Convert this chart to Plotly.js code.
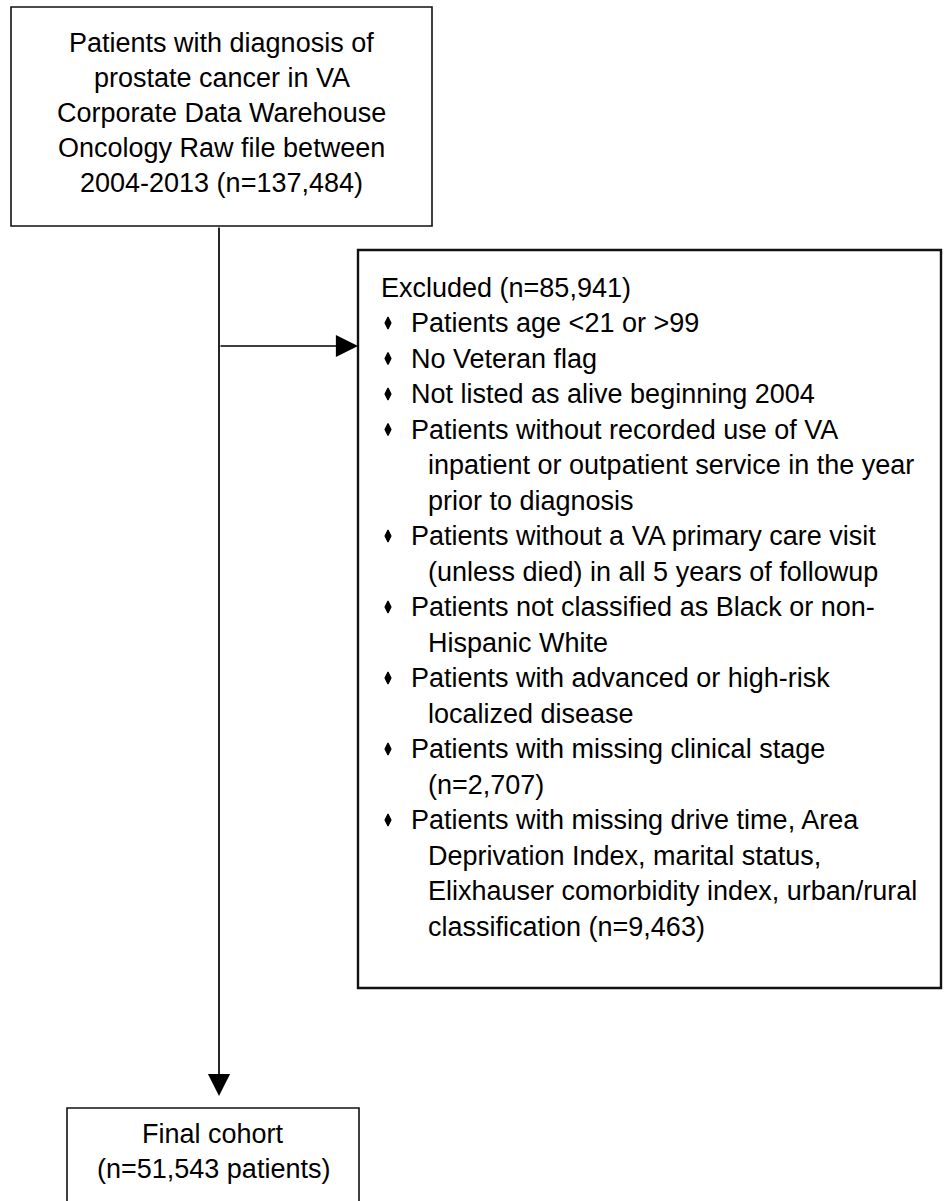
<!DOCTYPE html>
<html>
<head>
<meta charset="utf-8">
<script src="https://cdn.plot.ly/plotly-3.0.1.min.js"></script>
<style>
html,body{margin:0;padding:0;background:#fff;}
#chart{width:947px;height:1201px;}
</style>
</head>
<body>
<div id="chart"></div>
<script>
// ---------- content (text of the flow chart) ----------
const topBoxLines = [
  "Patients with diagnosis of",
  "prostate cancer in VA",
  "Corporate Data Warehouse",
  "Oncology Raw file between",
  "2004-2013 (n=137,484)"
];
const excludedTitle = "Excluded (n=85,941)";
const excludedItems = [
  ["Patients age &lt;21 or &gt;99"],
  ["No Veteran flag"],
  ["Not listed as alive beginning 2004"],
  ["Patients without recorded use of VA", "inpatient or outpatient service in the year", "prior to diagnosis"],
  ["Patients without a VA primary care visit", "(unless died) in all 5 years of followup"],
  ["Patients not classified as Black or non-", "Hispanic White"],
  ["Patients with advanced or high-risk", "localized disease"],
  ["Patients with missing clinical stage", "(n=2,707)"],
  ["Patients with missing drive time, Area", "Deprivation Index, marital status,", "Elixhauser comorbidity index, urban/rural", "classification (n=9,463)"]
];
const finalBoxLines = [
  "Final cohort",
  "(n=51,543 patients)"
];

// ---------- geometry / styling ----------
const W = 947, H = 1201;
const FONT = {family: '"Liberation Sans", Arial, Helvetica, sans-serif', size: 27, color: '#000'};
const geo = {
  topBox: {x0: 11, x1: 432, y0: 7, y1: 226, lw: 1.6},
  topY0: 43, topGap: 35,
  exBox: {x0: 358, x1: 941, y0: 250, y1: 988, lw: 2.4},
  exTitleX: 381, exY0: 287.5, exGap: 35.5,
  bulletX: 388, bulletTextX: 411, wrapX: 428,
  finBox: {x0: 67, x1: 359, y0: 1108, y1: 1215, lw: 1.6},
  finY0: 1134, finGap: 35,
  trunkX: 219, trunkTop: 226, trunkTip: 1096, branchY: 346
};

const shapes = [];
function box(b) {
  shapes.push({type: 'rect', xref: 'x', yref: 'y', x0: b.x0, x1: b.x1, y0: b.y0, y1: b.y1,
    line: {color: '#111', width: b.lw}, fillcolor: 'rgba(0,0,0,0)', layer: 'above'});
}
box(geo.topBox); box(geo.exBox); box(geo.finBox);

const annotations = [];
function textAt(txt, x, y, anchor) {
  annotations.push({text: txt, x: x, y: y, xref: 'x', yref: 'y', showarrow: false,
    xanchor: anchor, yanchor: 'middle', font: FONT, borderpad: 0, borderwidth: 0});
}
// top box
const topCx = (geo.topBox.x0 + geo.topBox.x1) / 2;
topBoxLines.forEach((t, i) => textAt(t, topCx, geo.topY0 + i * geo.topGap, 'center'));
// final box
const finCx = (geo.finBox.x0 + geo.finBox.x1) / 2;
finalBoxLines.forEach((t, i) => textAt(t, finCx, geo.finY0 + i * geo.finGap, 'center'));
// excluded box
textAt(excludedTitle, geo.exTitleX, geo.exY0, 'left');
let row = 1;
const bx = [], by = [];
excludedItems.forEach(item => {
  item.forEach((t, j) => {
    const y = geo.exY0 + row * geo.exGap;
    if (j === 0) { bx.push(geo.bulletX); by.push(y); }
    textAt(t, j === 0 ? geo.bulletTextX : geo.wrapX, y, 'left');
    row++;
  });
});

// arrows
function arrow(x0, y0, x1, y1) {
  annotations.push({text: '', x: x1, y: y1, ax: x0, ay: y0, xref: 'x', yref: 'y', axref: 'x', ayref: 'y',
    showarrow: true, arrowhead: 2, arrowsize: 2.6, arrowwidth: 1.7, arrowcolor: '#000', standoff: 0, startstandoff: 0});
}
arrow(geo.trunkX, geo.trunkTop, geo.trunkX, geo.trunkTip);
arrow(geo.trunkX, geo.branchY, geo.exBox.x0, geo.branchY);

const data = [{
  type: 'scatter', mode: 'markers', x: bx, y: by, hoverinfo: 'skip',
  marker: {symbol: 'diamond-tall', size: 8.5, color: '#000', line: {color: '#000', width: 1.2}}
}];

const layout = {
  width: W, height: H,
  margin: {l: 0, r: 0, t: 0, b: 0, pad: 0},
  paper_bgcolor: '#fff', plot_bgcolor: '#fff',
  showlegend: false,
  xaxis: {range: [0, W], visible: false, fixedrange: true},
  yaxis: {range: [H, 0], visible: false, fixedrange: true},
  shapes: shapes,
  annotations: annotations
};

Plotly.newPlot('chart', data, layout, {staticPlot: true, displayModeBar: false});
</script>
</body>
</html>
